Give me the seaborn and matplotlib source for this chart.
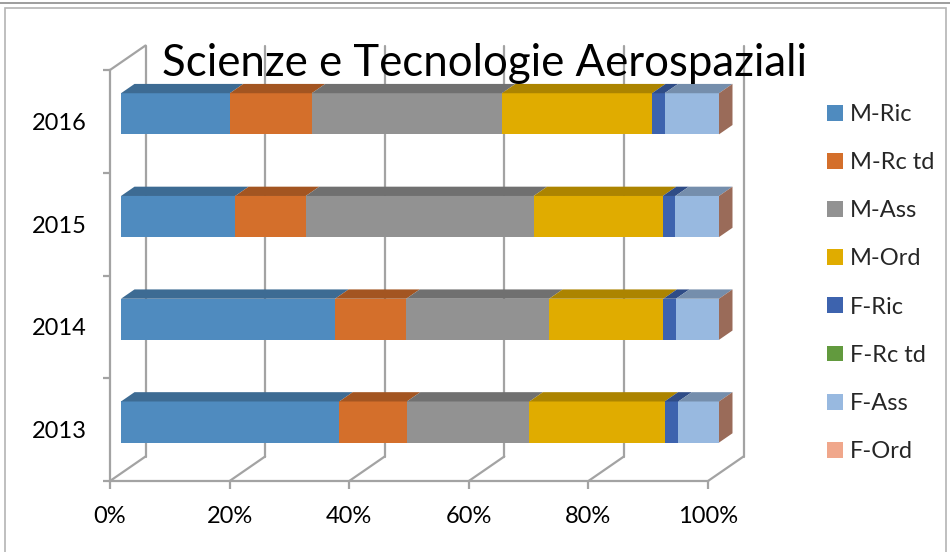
import numpy as np
import pandas as pd
import seaborn as sns
import matplotlib
matplotlib.use("Agg")
import matplotlib.pyplot as plt
from matplotlib.patches import Polygon, Patch, Rectangle
from matplotlib.lines import Line2D
from matplotlib.transforms import Affine2D
from matplotlib.colors import to_rgb

# ---- data (share of staff per category, %) ----
years = ["2016", "2015", "2014", "2013"]
series = ["M-Ric", "M-Rc td", "M-Ass", "M-Ord", "F-Ric", "F-Rc td", "F-Ass", "F-Ord"]
m_ric   = [18.2, 19.1, 35.8, 36.5]
m_rctd  = [13.7, 11.8, 11.9, 11.3]
m_ass   = [31.8, 38.1, 23.9, 20.5]
m_ord   = [25.1, 21.6, 19.1, 22.6]
f_ric   = [2.1, 2.1, 2.1, 2.3]
f_rctd  = [0.0, 0.0, 0.0, 0.0]
f_ass   = [9.1, 7.3, 7.2, 6.8]
f_ord   = [0.0, 0.0, 0.0, 0.0]
x_ticks = [0, 20, 40, 60, 80, 100]
title = "Scienze e Tecnologie Aerospaziali"

colors = ["#4f8bbf", "#d46f2b", "#929292", "#e0ac00",
          "#3d63ae", "#629a3e", "#98b9e0", "#f0a78b"]

values = np.array([m_ric, m_rctd, m_ass, m_ord, f_ric, f_rctd, f_ass, f_ord])
cum = np.cumsum(values, axis=0)
rows = []
for s_i, s in enumerate(series):
    for y_i, y in enumerate(years):
        rows.append({"year": y, "series": s, "value": values[s_i, y_i],
                     "cum": cum[s_i, y_i]})
df = pd.DataFrame(rows)

sns.set_theme(style="white")
FONT = ["Lato", "DejaVu Sans"]
plt.rcParams["font.family"] = FONT

W, H = 950, 552
fig = plt.figure(figsize=(W / 100, H / 100), dpi=100)
fig.patch.set_facecolor("white")

# axes frame = front plane of the 3D box (pixels)
x0_px, x1_px, ytop_px, ybot_px = 110, 708, 70, 481
ax = fig.add_axes([x0_px / W, 1 - ybot_px / H, (x1_px - x0_px) / W,
                   (ybot_px - ytop_px) / H])
ax.set_facecolor("none")

# depth of the box and position of the bars inside it (pixels, right/up)
DX, DY = 35.5, 24.5
F0, F1 = 0.31, 0.69
BAR_W = 0.4

# cumulative bars drawn from the total down to the first series -> stacked look
sns.barplot(data=df, x="cum", y="year", hue="series",
            hue_order=series[::-1], palette=dict(zip(series, colors)),
            order=years, orient="h", dodge=False, width=BAR_W,
            errorbar=None, saturation=1, legend=False, linewidth=0, ax=ax,
            zorder=3)

ax.set_xlim(0, 100)
ax.set_ylim(len(years) - 0.5, -0.5)

# shift front faces into the bar plane
front_tf = ax.transData + Affine2D().translate(F0 * DX, F0 * DY)
for p in ax.patches:
    p.set_transform(front_tf)
    p.set_edgecolor("none")
    p.set_clip_on(False)

# pixel -> data scale
sx = 100 / (x1_px - x0_px)
sy = len(years) / (ybot_px - ytop_px)


def depth(x, y, f):
    return (x + f * DX * sx, y - f * DY * sy)


def shade(c, k):
    return tuple(np.clip(np.array(to_rgb(c)) * k, 0, 1))


# top faces of every segment and the end face of the stack
for y_i in range(len(years)):
    yt = y_i - BAR_W / 2
    yb = y_i + BAR_W / 2
    left = 0.0
    for s_i in range(len(series)):
        w = values[s_i, y_i]
        if w > 0:
            r = left + w
            poly = [depth(left, yt, F0), depth(r, yt, F0),
                    depth(r, yt, F1), depth(left, yt, F1)]
            ax.add_patch(Polygon(poly, closed=True, facecolor=shade(colors[s_i], 0.77),
                                 edgecolor="none", zorder=3, clip_on=False))
        left += w
    end = cum[-1, y_i]
    side = [depth(end, yt, F0), depth(end, yt, F1),
            depth(end, yb, F1), depth(end, yb, F0)]
    ax.add_patch(Polygon(side, closed=True, facecolor=shade(colors[-1], 0.64),
                         edgecolor="none", zorder=3, clip_on=False))

# walls and floor
GRID = "#a3a3a3"
LW = 1.6
ymin, ymax = len(years) - 0.5, -0.5
for xv in x_ticks:
    a = depth(xv, ymin, 0)
    b = depth(xv, ymin, 1)
    c = depth(xv, ymax, 1)
    ax.plot([a[0], b[0]], [a[1], b[1]], color=GRID, lw=LW, clip_on=False, zorder=1)
    ax.plot([b[0], c[0]], [b[1], c[1]], color=GRID, lw=LW, clip_on=False, zorder=1)
a = depth(0, ymax, 0)
b = depth(0, ymax, 1)
ax.plot([a[0], b[0]], [a[1], b[1]], color=GRID, lw=LW, clip_on=False, zorder=1)

for side_name in ["top", "right"]:
    ax.spines[side_name].set_visible(False)
for side_name in ["left", "bottom"]:
    ax.spines[side_name].set_color(GRID)
    ax.spines[side_name].set_linewidth(LW)

ax.set_xticks(x_ticks)
ax.set_xticklabels([f"{v}%" for v in x_ticks])
ax.set_yticks(range(len(years)))
ax.set_yticklabels(years)
ax.set_yticks(np.arange(-0.5, len(years)), minor=True)
ax.set_xlabel("")
ax.set_ylabel("")
ax.tick_params(axis="x", which="major", direction="out", length=6, width=LW,
               color=GRID, pad=12, labelsize=17, labelcolor="black", bottom=True)
ax.tick_params(axis="y", which="major", length=0, pad=17, labelsize=17,
               labelcolor="black", left=True)
ax.tick_params(axis="y", which="minor", direction="out", length=5, width=LW,
               color=GRID, left=True)

# title
fig.text(484 / W, 1 - 76 / H, title, ha="center", va="baseline",
         fontsize=31.5, color="black", family=FONT, zorder=5)

# legend
handles = [Patch(facecolor=c, edgecolor="none") for c in colors]
fig.legend(handles, series, loc="upper left", bbox_to_anchor=(827 / W, 1 - 104 / H),
           frameon=False, fontsize=17, handlelength=0.66, handleheight=0.66,
           handletextpad=0.32, labelspacing=1.15, borderpad=0, borderaxespad=0)

# chart frame
fig.add_artist(Line2D([0, 1], [1 - 2.5 / H, 1 - 2.5 / H], transform=fig.transFigure,
                      color="#8c8c8c", lw=1.2))
fig.add_artist(Rectangle((5 / W, -0.05), (946 - 5) / W, 1.05 - 8 / H,
                         transform=fig.transFigure, fill=False,
                         edgecolor="#b4b4b4", lw=1.2))

fig.savefig("out.png", dpi=100, facecolor="white")
